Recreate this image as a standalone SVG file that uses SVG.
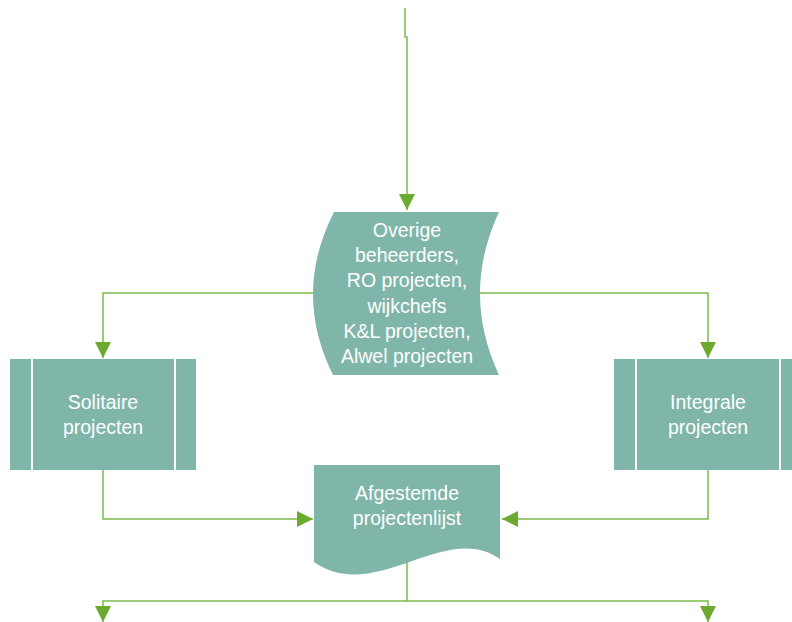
<svg xmlns="http://www.w3.org/2000/svg" width="792" height="622" viewBox="0 0 792 622">
<style>
.shape{fill:#80b6a9;}
.div{stroke:#ffffff;stroke-width:2;fill:none;}
.conn{fill:none;stroke:#7cba4c;stroke-width:1.5;marker-end:url(#ah);}
.plain{fill:none;stroke:#7cba4c;stroke-width:1.5;}
text{font-family:"Liberation Sans",Arial,sans-serif;font-size:19.5px;fill:#ffffff;text-anchor:middle;}
</style>
<defs>
<marker id="ah" markerUnits="userSpaceOnUse" markerWidth="16" markerHeight="16" refX="16" refY="8" orient="auto">
<path d="M0,0 L16,8 L0,16 Z" fill="#6aab2f"/>
</marker>
</defs>
<rect width="792" height="622" fill="#ffffff"/>
<g id="connectors">
<path class="conn" d="M405,8 V37 H407 V210"/>
<path class="conn" d="M313,293 H103 V358"/>
<path class="conn" d="M480,293 H708 V358"/>
<path class="conn" d="M103,470 V519 H313"/>
<path class="conn" d="M708,470 V519 H502"/>
<path class="plain" d="M407,562 V601"/>
<path class="conn" d="M407,601 H103 V622"/>
<path class="conn" d="M407,601 H708 V622"/>
</g>
<g id="overige">
<path class="shape" d="M334,212 H499 Q461,293.5 499,375 H333 Q292.5,293.5 334,212 Z"/>
<text x="407" y="237">Overige</text>
<text x="407" y="262.2">beheerders,</text>
<text x="407" y="287.4">RO projecten,</text>
<text x="407" y="312.6">wijkchefs</text>
<text x="407" y="337.8">K&amp;L projecten,</text>
<text x="407" y="363">Alwel projecten</text>
</g>
<g id="solitaire">
<rect class="shape" x="10" y="359" width="186" height="111"/>
<line class="div" x1="32" y1="359" x2="32" y2="470"/>
<line class="div" x1="175" y1="359" x2="175" y2="470"/>
<text x="103" y="409">Solitaire</text>
<text x="103" y="434">projecten</text>
</g>
<g id="integrale">
<rect class="shape" x="614" y="359" width="187" height="111"/>
<line class="div" x1="636" y1="359" x2="636" y2="470"/>
<line class="div" x1="780" y1="359" x2="780" y2="470"/>
<text x="708" y="409">Integrale</text>
<text x="708" y="434">projecten</text>
</g>
<g id="afgestemde">
<path class="shape" d="M314,465 H500 V559 C445,520 375,605 314,562 Z"/>
<text x="407" y="500">Afgestemde</text>
<text x="407" y="525">projectenlijst</text>
</g>
</svg>
